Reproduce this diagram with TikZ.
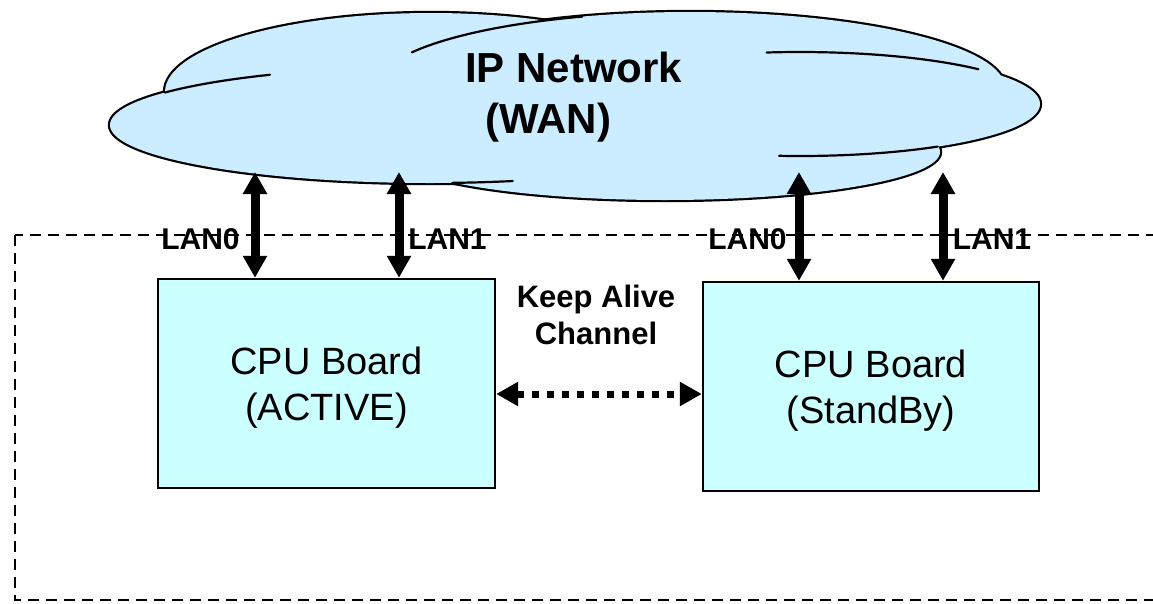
\documentclass[tikz,border=0pt]{standalone}
\usepackage{fontspec}
\setmainfont{Liberation Sans}
\usetikzlibrary{arrows.meta}
\definecolor{cloudblue}{HTML}{CCECFF}
\definecolor{boxcyan}{HTML}{CCFFFF}
\begin{document}
\begin{tikzpicture}[x=1pt,y=-1pt,
  cloudline/.style={draw=black, line width=4.4pt},
  cloudfill/.style={fill=cloudblue},
  cloudarc/.style={draw=black, line width=2.2pt, line cap=round},
  cpubox/.style={draw=black, line width=2.4pt, fill=boxcyan, minimum width=337pt,
    minimum height=209pt, inner sep=0pt, align=center,
    font=\fontsize{38}{46}\selectfont, text depth=0pt},
  lanlabel/.style={font=\fontsize{30}{36}\selectfont\bfseries, inner sep=0pt, anchor=base},
  lanarrow/.style={line width=9pt, {Triangle[length=22pt,width=23pt]}-{Triangle[length=22pt,width=23pt]}},
  kaarrow/.style={line width=7pt, dash pattern=on 7pt off 8pt,
    {Triangle[length=22pt,width=23pt]}-{Triangle[length=22pt,width=23pt]}},
  boundary/.style={draw=black, line width=2.4pt, dash pattern=on 11pt off 7pt}
]
\useasboundingbox (0,0) rectangle (1153,603);
\clip (0,0) rectangle (1153,603);

% cloud: outlines, then fill
\foreach \cx/\cy/\rx/\ry in {431/92/266/79, 430/125/320/58, 690/88/315/76, 800/104/240/52, 665/152/275/48}{
  \path[cloudline] (\cx,\cy) ellipse [x radius=\rx pt, y radius=\ry pt];
}
\foreach \cx/\cy/\rx/\ry in {431/92/266/79, 430/125/320/58, 690/88/315/76, 800/104/240/52, 665/152/275/48}{
  \path[cloudfill] (\cx,\cy) ellipse [x radius=\rx pt, y radius=\ry pt];
}
% internal arcs of the cloud
\draw[cloudarc] plot[domain=214:240, samples=30] ({430+320*cos(\x)},{125+58*sin(\x)});
\draw[cloudarc] plot[domain=208:250, samples=30] ({690+315*cos(\x)},{88+76*sin(\x)});
\draw[cloudarc] plot[domain=262:318, samples=30] ({800+240*cos(\x)},{104+52*sin(\x)});
\draw[cloudarc] plot[domain=55:95, samples=30] ({800+240*cos(\x)},{104+52*sin(\x)});
\draw[cloudarc] plot[domain=75:86, samples=20] ({430+320*cos(\x)},{125+58*sin(\x)});

\node[font=\fontsize{42}{51}\selectfont\bfseries, align=left, anchor=west,
  inner sep=0pt, text depth=0pt] (ipnet) at (465,92.5) {IP Network\\\hspace*{20pt}(WAN)};

% dashed system boundary
\draw[boundary] (15,235) rectangle (1175,600);

% CPU boards
\node[cpubox] (act) at (326.5,383.5) {CPU Board\\(ACTIVE)};
\node[cpubox, minimum width=336pt] (stb) at (871,386.5) {CPU Board\\(StandBy)};

% LAN links
\coordinate (a0) at (255,172);
\coordinate (a1) at (399,172);
\coordinate (s0) at (799,172);
\coordinate (s1) at (943,172);
\draw[lanarrow] (a0) -- (a0 |- act.north);
\draw[lanarrow] (a1) -- (a1 |- act.north);
\draw[lanarrow] (s0) -- (s0 |- stb.north);
\draw[lanarrow] (s1) -- (s1 |- stb.north);

\node[lanlabel] (la0) at (200.5,249) {LAN0};
\node[lanlabel] (la1) at (447.5,249) {LAN1};
\node[lanlabel] (ls0) at (747.5,249) {LAN0};
\node[lanlabel] (ls1) at (992,249) {LAN1};

% keep alive channel
\node[font=\fontsize{31}{37}\selectfont\bfseries, align=center, inner sep=0pt,
  text depth=0pt] (ka) at (596,314.5) {Keep Alive\\Channel};
\coordinate (kay) at (600,394);
\draw[kaarrow] (act.east |- kay) -- (stb.west |- kay);
\end{tikzpicture}
\end{document}
